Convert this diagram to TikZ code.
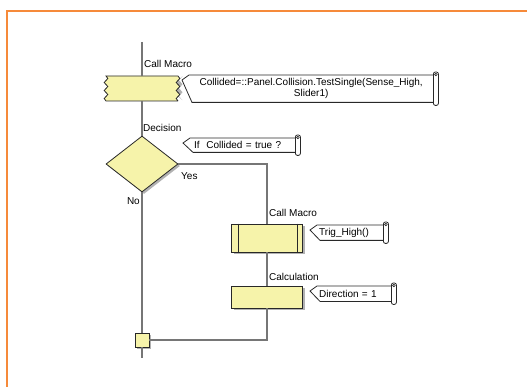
\documentclass[tikz,border=0pt]{standalone}
\usepackage{fontspec}
\setmainfont{Liberation Sans}
\usetikzlibrary{shapes.geometric, shadows, calc, decorations.pathmorphing}

\definecolor{flowBox}{RGB}{246,243,170}
\definecolor{flowLine}{RGB}{118,118,118}
\definecolor{flowEdge}{RGB}{40,40,40}
\definecolor{flowFrame}{RGB}{246,138,58}

%% outline of a comment flag round a text node
\newcommand{\noteframe}[1]{%
  \draw[flowEdge, line width=0.8pt]
    (#1.north west) -- ($(#1.north west)+(-7,5)$)
    -- ($(#1.south west)+(3,0)$) -- (#1.south east) -- (#1.north east) -- cycle;
  \draw[flowEdge, line width=0.8pt, fill=white, rounded corners=2pt]
    ($(#1.north east)+(0,-3)$) rectangle ($(#1.south east)+(5,3)$);
  \draw[flowEdge, line width=0.6pt] ($(#1.north east)+(2.5,-0.5)$) circle[radius=1.3pt];
}

\begin{document}
\begin{tikzpicture}[x=1pt, y=-1pt, font=\fontsize{10pt}{11pt}\selectfont,
  flow/.style={draw=flowLine, line width=1.6pt},
  boxshadow/.style={drop shadow={shadow xshift=2pt, shadow yshift=-2pt, fill=black!30, opacity=1}},
  block/.style={draw=flowEdge, line width=0.8pt, fill=flowBox, boxshadow, inner sep=0pt},
  note/.style={inner ysep=0pt, anchor=north west, align=left},
  tag/.style={anchor=west, inner sep=0pt}]
\useasboundingbox (0,0) rectangle (527,387);

%% page frame
\draw[flowFrame, line width=2.6pt] (528,11) -- (7,11) -- (7,388);

%% blocks
\coordinate (top) at (142,42);
\coordinate (bottom) at (142,358);
\node[minimum width=72pt, minimum height=25pt, inner sep=0pt] (callA) at (142,88.5) {};
\begin{scope}[shift={(2,2)}]
  \fill[black!30, decorate, decoration={snake, amplitude=1.8pt, segment length=8pt}]
    (106,76) -- (178,76) -- (178,101) -- (106,101) -- cycle;
\end{scope}
\path[fill=flowBox, draw=flowEdge, line width=0.8pt]
  (106,76) -- (178,76)
  decorate[decoration={snake, amplitude=1.8pt, segment length=8pt}]{-- (178,101)}
  -- (106,101)
  decorate[decoration={snake, amplitude=1.8pt, segment length=8pt}]{-- (106,76)};
\node[block, diamond, minimum width=72pt, minimum height=56pt, aspect=1] (decide) at (142,164) {};
\node[block, minimum width=71pt, minimum height=28pt] (callB) at (267,238) {};
\draw[flowEdge, line width=0.8pt] ([xshift=7pt]callB.north west) -- ([xshift=7pt]callB.south west);
\draw[flowEdge, line width=0.8pt] ([xshift=-6pt]callB.north east) -- ([xshift=-6pt]callB.south east);
\node[block, minimum width=71pt, minimum height=22pt] (calc) at (267,297) {};
\node[block, minimum size=14pt] (join) at (142,340) {};

%% connectors
\draw[flow] (top) -- (callA.north);
\draw[flow] (callA.south) -- (decide.north);
\draw[flow] (decide.south) -- (join.north);
\draw[flow] (decide.east) -| (callB.north);
\draw[flow] (callB.south) -- (calc.north);
\draw[flow] (calc.south) |- (join.east);
\draw[flow] (join.south) -- (bottom);

%% labels
\node[tag] (tagA) at (144,64) {Call Macro};
\node[tag] (tagD) at (143,128) {Decision};
\node[tag] (tagYes) at (181,176) {Yes};
\node[anchor=east, inner sep=0pt] (tagNo) at (140,201) {No};
\node[tag] (tagB) at (269,213) {Call Macro};
\node[tag] (tagC) at (269,277) {Calculation};

%% comments
\node[note, text width=236pt, inner xsep=4pt, align=center, minimum height=27pt] (noteA) at (189,75)
  {Collided=::Panel.Collision.TestSingle(Sense\_High,\\Slider1)};
\noteframe{noteA}
\node[note, text width=97pt, inner xsep=4pt, minimum height=14pt] (noteD) at (190,138)
  {If~~Collided = true ?};
\noteframe{noteD}
\node[note, text width=62pt, inner xsep=2pt, minimum height=15pt] (noteB) at (317,225)
  {Trig\_High()};
\noteframe{noteB}
\node[note, text width=70pt, inner xsep=2pt, minimum height=15pt] (noteC) at (317,286)
  {Direction = 1};
\noteframe{noteC}
\end{tikzpicture}
\end{document}
